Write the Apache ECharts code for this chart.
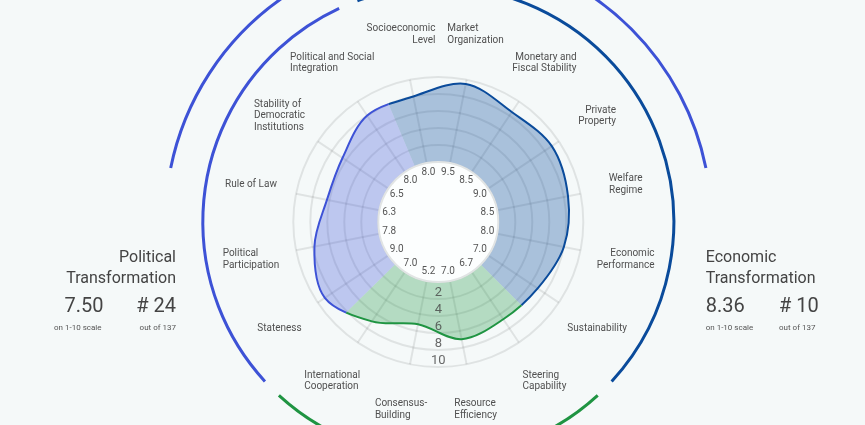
<!DOCTYPE html>
<html><head><meta charset="utf-8">
<script src="https://cdn.jsdelivr.net/npm/echarts@6/dist/echarts.min.js"></script>
<style>html,body{margin:0;padding:0;background:#f5f9f9}#c{width:865px;height:425px}</style>
</head><body><div id="c"></div>
<script>
// ---------- data ----------
const categories = ['Socioeconomic\nLevel', 'Market\nOrganization', 'Monetary and\nFiscal Stability', 'Private\nProperty',
  'Welfare\nRegime', 'Economic\nPerformance', 'Sustainability', 'Steering\nCapability', 'Resource\nEfficiency',
  'Consensus-\nBuilding', 'International\nCooperation', 'Stateness', 'Political\nParticipation', 'Rule of Law',
  'Stability of\nDemocratic\nInstitutions', 'Political and Social\nIntegration'];
const scores = [8.0, 9.5, 8.5, 9.0, 8.5, 8.0, 7.0, 6.7, 7.0, 5.2, 7.0, 9.0, 7.8, 6.3, 6.5, 8.0];
const economicIdx = [0, 1, 2, 3, 4, 5, 6];
const governanceIdx = [7, 8, 9, 10];
const politicalIdx = [11, 12, 13, 14, 15];
const radialTicks = [2, 4, 6, 8, 10];
const politicalSummary = { title: 'Political\nTransformation', score: '7.50', rank: 24 };
const economicSummary = { title: 'Economic\nTransformation', score: '8.36', rank: 10 };
const countryCount = 137;

// ---------- styles ----------
const COL = {
  political: { line: '#3d52d6', fill: 'rgba(61,82,214,0.30)' },
  economic: { line: '#0a4b9b', fill: 'rgba(10,75,155,0.32)' },
  governance: { line: '#1f9442', fill: 'rgba(31,150,66,0.30)' }
};
const labelLineAlign = ['right', 'left', 'right', 'right', 'right', 'right', 'center', 'left', 'left',
  'left', 'left', 'center', 'left', 'center', 'left', 'left'];
const TXT = '#505050';
const FONT = 'Roboto';
const CENTER = [438.3, 222];
const R0 = 60, R1 = 145;

const mctx = document.createElement('canvas').getContext('2d');
function blockW(text, font) {
  mctx.font = font;
  return Math.max.apply(null, text.split('\n').map(s => mctx.measureText(s).width));
}

function arcEl(cx, cy, r, t1, t2, color, w) {
  const d = Math.PI / 180;
  return { type: 'arc', shape: { cx, cy, r, startAngle: (t1 - 90) * d, endAngle: (t2 - 90) * d, clockwise: true },
    style: { stroke: color, lineWidth: w, fill: null }, z2: 1 };
}

function renderItem(params, api) {
  const cs = params.coordSys;
  const cx = cs.cx, cy = cs.cy, r0 = cs.r0, r = cs.r;
  const i = params.dataIndex;
  const n = params.dataInsideLength;
  const children = [];
  const ref = api.coord([10, api.value(1)]);
  const ux = (ref[0] - cx) / r, uy = (ref[1] - cy) / r;

  // inner value label
  children.push({ type: 'text', x: cx + ux * (r0 - 10), y: cy + uy * (r0 - 10), z2: 20,
    style: { text: api.value(0).toFixed(1), fontFamily: FONT, fontSize: 10, fill: '#555', align: 'center', verticalAlign: 'middle' } });
  // outer category label
  const font = '10px ' + FONT;
  const txt = categories[i];
  const w = blockW(txt, font);
  const ax = cx + ux * 191, ay = cy + uy * 191;
  const al = labelLineAlign[i];
  const lx = al === 'left' ? ax - w / 2 : al === 'right' ? ax + w / 2 : ax;
  children.push({ type: 'text', x: lx, y: ay, z2: 20,
    style: { text: txt, fontFamily: FONT, fontSize: 10, fill: TXT, align: al, verticalAlign: 'middle', lineHeight: 11.5 } });

  if (i === 0) {
    const P = [];
    for (let k = 0; k < n; k++) P.push(api.coord([api.value(0, k), api.value(1, k)]));
    const at = k => P[(k + n) % n];
    function seg(k) {
      const p0 = at(k - 1), p1 = at(k), p2 = at(k + 1), p3 = at(k + 2);
      return [p1, [p1[0] + (p2[0] - p0[0]) / 6, p1[1] + (p2[1] - p0[1]) / 6],
        [p2[0] - (p3[0] - p1[0]) / 6, p2[1] - (p3[1] - p1[1]) / 6], p2];
    }
    const mid = (a, b) => [(a[0] + b[0]) / 2, (a[1] + b[1]) / 2];
    function split(s) {
      const q0 = mid(s[0], s[1]), q1 = mid(s[1], s[2]), q2 = mid(s[2], s[3]);
      const r0_ = mid(q0, q1), r1_ = mid(q1, q2), m = mid(r0_, r1_);
      return [[s[0], q0, r0_, m], [m, r1_, q2, s[3]]];
    }
    const f = p => p[0].toFixed(2) + ' ' + p[1].toFixed(2);
    function groupPath(idx, closed) {
      const first = idx[0], last = idx[idx.length - 1];
      const h1 = split(seg(first - 1))[1];
      let d = closed ? 'M' + f([cx, cy]) + 'L' + f(h1[0]) : 'M' + f(h1[0]);
      d += 'C' + f(h1[1]) + ' ' + f(h1[2]) + ' ' + f(h1[3]);
      for (let k = first; k !== last; k = (k + 1) % n) {
        const s = seg(k);
        d += 'C' + f(s[1]) + ' ' + f(s[2]) + ' ' + f(s[3]);
      }
      const h2 = split(seg(last))[0];
      d += 'C' + f(h2[1]) + ' ' + f(h2[2]) + ' ' + f(h2[3]);
      if (closed) d += 'Z';
      return d;
    }
    const groups = [[economicIdx, COL.economic], [governanceIdx, COL.governance], [politicalIdx, COL.political]];
    groups.forEach(g => {
      children.push({ type: 'path', shape: { pathData: groupPath(g[0], true) }, style: { fill: g[1].fill, stroke: null }, z2: 1 });
    });
    groups.forEach(g => {
      children.push({ type: 'path', shape: { pathData: groupPath(g[0], false) }, style: { fill: null, stroke: g[1].line, lineWidth: 2 }, z2: 2 });
    });
    // inner hole
    children.push({ type: 'circle', shape: { cx, cy, r: r0 }, style: { fill: '#fcfefe', stroke: '#e1e4e4', lineWidth: 2 }, z2: 3 });
    // group arcs
    const g = 2.4;
    children.push(arcEl(cx, cy, 235.5, -22.5 + g, 135 - g, COL.economic.line, 3));
    children.push(arcEl(cx, cy, 235.5, 135 + g, 225 - g, COL.governance.line, 3));
    children.push(arcEl(cx, cy, 235.5, 225 + g, 337.5 - g, COL.political.line, 3));
    children.push(arcEl(cx, cy, 273, -78.6, 78.6, COL.political.line, 3));
  }
  return { type: 'group', children };
}

const chart = echarts.init(document.getElementById('c'), null, { renderer: 'canvas' });
const gridLine = { show: true, lineStyle: { color: 'rgba(0,0,0,0.085)', width: 2 } };
const hidden = { axisLine: { show: false }, axisTick: { show: false }, axisLabel: { show: false }, splitLine: { show: false } };

function summaryTexts(s, side) {
  const right = side === 'left';
  const a = right ? 'right' : 'left';
  const x1 = right ? 176 : 705.7, x2 = right ? 103.5 : 705.7, x3 = right ? 176 : 779;
  return [
    { type: 'text', x: x1, y: 268.5, style: { text: s.title, font: '16px ' + FONT, fill: '#444', align: a, verticalAlign: 'middle', lineHeight: 21 } },
    { type: 'text', x: x2, y: 307, style: { text: s.score, font: '20px ' + FONT, fill: '#444', align: a, verticalAlign: 'middle' } },
    { type: 'text', x: x3, y: 307, style: { text: '# ' + s.rank, font: '20px ' + FONT, fill: '#444', align: a, verticalAlign: 'middle' } },
    { type: 'text', x: right ? 101.5 : 705.7, y: 328, style: { text: 'on 1-10 scale', font: '8px ' + FONT, fill: '#555', align: a, verticalAlign: 'middle' } },
    { type: 'text', x: x3, y: 328, style: { text: 'out of ' + countryCount, font: '8px ' + FONT, fill: '#555', align: a, verticalAlign: 'middle' } }
  ];
}

chart.setOption({
  backgroundColor: '#f5f9f9',
  animation: false,
  textStyle: { fontFamily: FONT },
  polar: [{ center: CENTER, radius: [R0, R1] }, { center: CENTER, radius: [R0, R1] }],
  angleAxis: [
    Object.assign({ polarIndex: 0, type: 'category', data: categories, startAngle: 112.5, clockwise: true }, hidden),
    Object.assign({ polarIndex: 1, type: 'category', data: categories, startAngle: 101.25, clockwise: true }, hidden, { splitLine: gridLine })
  ],
  radiusAxis: [
    Object.assign({ polarIndex: 0, type: 'value', min: 0, max: 10 }, hidden),
    Object.assign({ polarIndex: 1, type: 'value', min: 0, max: 10, interval: 2 }, hidden, { splitLine: gridLine })
  ],
  graphic: [].concat(summaryTexts(politicalSummary, 'left'), summaryTexts(economicSummary, 'right')),
  series: [
    { type: 'custom', coordinateSystem: 'polar', polarIndex: 0, renderItem, encode: { radius: 0, angle: 1 },
      data: scores.map((v, i) => [v, i]), silent: true, z: 2 },
    { type: 'scatter', coordinateSystem: 'polar', polarIndex: 1, silent: true, z: 5,
      data: radialTicks.map(v => [v, 8]), symbolSize: 1, itemStyle: { color: 'transparent' },
      label: { show: true, position: 'inside', formatter: p => String(p.value[0]), fontSize: 13, color: '#444', offset: [0, -6], fontFamily: FONT } }
  ]
});
</script></body></html>
